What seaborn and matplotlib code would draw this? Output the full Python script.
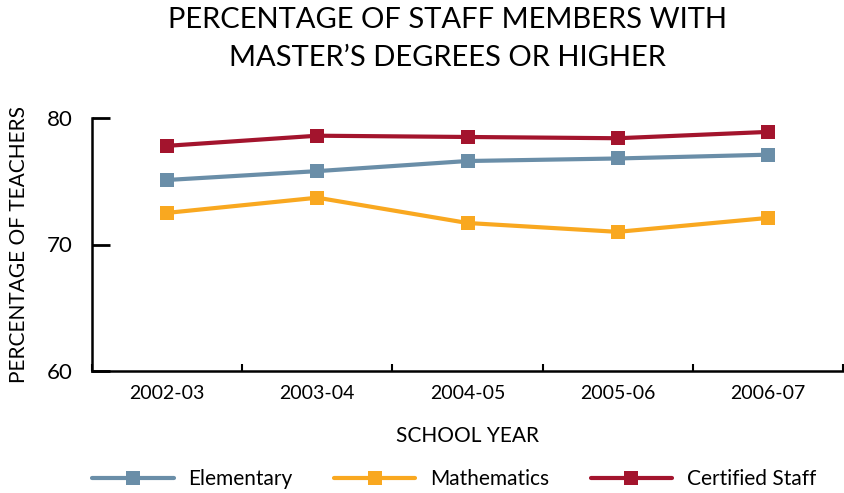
import matplotlib
matplotlib.use("Agg")
import matplotlib.pyplot as plt
import seaborn as sns
import pandas as pd
import numpy as np
from matplotlib.lines import Line2D

years = ["2002-03", "2003-04", "2004-05", "2005-06", "2006-07"]
elementary = [75.1, 75.8, 76.6, 76.8, 77.1]
mathematics = [72.5, 73.7, 71.7, 71.0, 72.1]
certified = [77.8, 78.6, 78.5, 78.4, 78.9]
series_names = ["Elementary", "Mathematics", "Certified Staff"]
colors = ["#6a8ea8", "#f9a820", "#a3142d"]

df = pd.DataFrame({
    "year": years * 3,
    "x": list(range(len(years))) * 3,
    "value": elementary + mathematics + certified,
    "series": [series_names[0]] * 5 + [series_names[1]] * 5 + [series_names[2]] * 5,
})

sns.set_theme(style="white")
plt.rcParams["font.family"] = ["Lato", "DejaVu Sans"]
plt.rcParams["text.color"] = "black"
plt.rcParams["axes.labelcolor"] = "black"
plt.rcParams["xtick.color"] = "black"
plt.rcParams["ytick.color"] = "black"

fig = plt.figure(figsize=(8.44, 4.93), dpi=100)
ax = fig.add_axes([92 / 844, 1 - 371 / 493, (843 - 92) / 844, (371 - 118) / 493])

palette = dict(zip(series_names, colors))
sns.lineplot(data=df, x="x", y="value", hue="series", hue_order=series_names,
             palette=palette, marker="s", markersize=10, markeredgewidth=0,
             linewidth=3, ax=ax, legend=False, clip_on=False)

ax.set_xlim(-0.5, len(years) - 0.5)
ax.set_ylim(60, 80)
ax.set_yticks([60, 70, 80])
ax.set_yticklabels(["60", "70", "80"], fontsize=16)
ax.set_xticks(range(len(years)))
ax.set_xticklabels(years, fontsize=14)
ax.set_xticks(np.arange(-0.5, len(years), 1.0), minor=True)
ax.tick_params(axis="x", which="major", length=0, pad=10)
ax.tick_params(axis="x", which="minor", direction="in", length=5, width=1.5, color="black", bottom=True)
ax.tick_params(axis="y", which="major", direction="in", length=13, width=2, color="black", pad=14, left=True)

for s in ["top", "right"]:
    ax.spines[s].set_visible(False)
for s in ["left", "bottom"]:
    ax.spines[s].set_color("black")
    ax.spines[s].set_linewidth(1.8)

ax.set_xlabel("SCHOOL YEAR", fontsize=15, labelpad=17)
ax.set_ylabel("PERCENTAGE OF TEACHERS", fontsize=15, labelpad=13)

fig.suptitle("PERCENTAGE OF STAFF MEMBERS WITH\nMASTER\u2019S DEGREES OR HIGHER",
             fontsize=21, y=0.985, linespacing=1.55, x=0.53)

handles = [Line2D([0], [0], color=c, lw=3, marker="s", markersize=10, markeredgewidth=0)
           for c in colors]
fig.legend(handles, series_names, loc="center", bbox_to_anchor=(0.538, 0.028), ncol=3,
           frameon=False, fontsize=15, handlelength=3.9, columnspacing=2.0, handletextpad=0.7)

fig.savefig("out.png", dpi=100)
